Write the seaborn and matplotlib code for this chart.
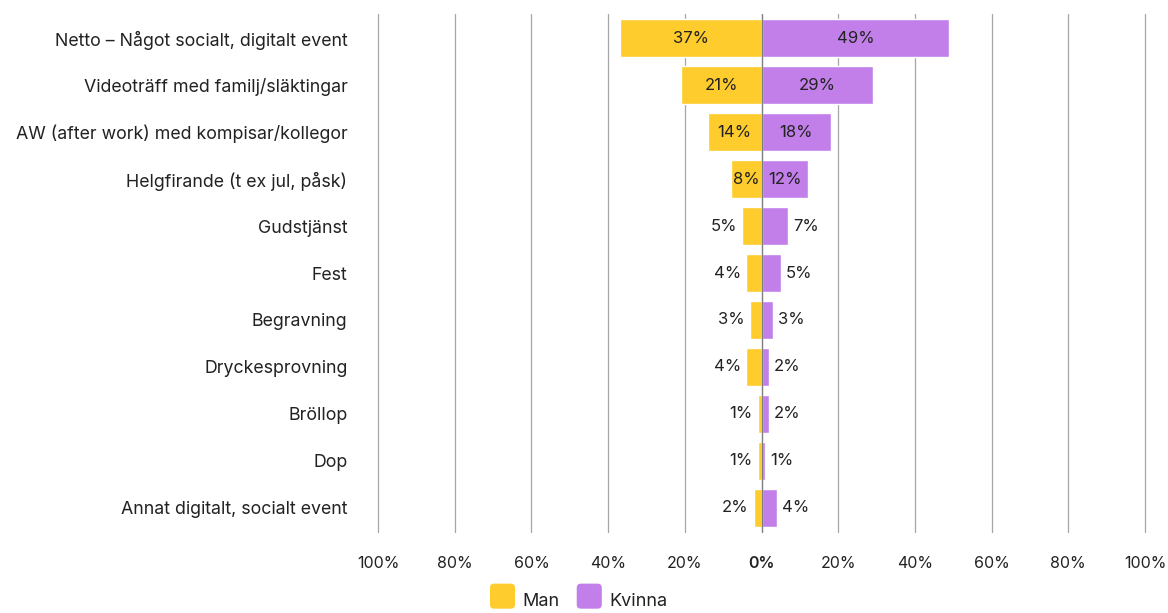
import matplotlib
matplotlib.use("Agg")
import matplotlib.pyplot as plt
import seaborn as sns
import pandas as pd
from matplotlib.patches import FancyBboxPatch, Patch
from matplotlib.legend_handler import HandlerPatch

categories = [
    "Netto – Något socialt, digitalt event",
    "Videoträff med familj/släktingar",
    "AW (after work) med kompisar/kollegor",
    "Helgfirande (t ex jul, påsk)",
    "Gudstjänst",
    "Fest",
    "Begravning",
    "Dryckesprovning",
    "Bröllop",
    "Dop",
    "Annat digitalt, socialt event",
]
man = [37, 21, 14, 8, 5, 4, 3, 4, 1, 1, 2]
kvinna = [49, 29, 18, 12, 7, 5, 3, 2, 2, 1, 4]
tick_values = [-100, -80, -60, -40, -20, 0, 20, 40, 60, 80, 100]
tick_labels = ["100%", "80%", "60%", "40%", "20%", "0%", "20%", "40%", "60%", "80%", "100%"]

YELLOW = "#FFCC2E"
PURPLE = "#C27FE9"
TEXT = "#222222"

sns.set_theme(style="white")
plt.rcParams["font.family"] = ["Inter", "DejaVu Sans"]

df = pd.DataFrame({"cat": categories, "Man": [-v for v in man], "Kvinna": kvinna})

fig = plt.figure(figsize=(11.68, 6.13), dpi=100)
ax = fig.add_axes([378 / 1168, (613 - 532) / 613, 767 / 1168, 518 / 613])

sns.barplot(data=df, y="cat", x="Man", color=YELLOW, width=0.81, ax=ax, saturation=1, orient="h", zorder=2)
sns.barplot(data=df, y="cat", x="Kvinna", color=PURPLE, width=0.81, ax=ax, saturation=1, orient="h", zorder=2)

ax.set_xlim(-100, 100)
ax.set_ylim(len(categories) - 0.5 + 0.02, -0.5 - 0.02)
ax.set_xticks(tick_values)
ax.set_xticklabels(tick_labels)
for lbl, v in zip(ax.get_xticklabels(), tick_values):
    if v == 0:
        lbl.set_fontweight("semibold")
ax.tick_params(axis="x", length=0, pad=17, labelsize=11.5, labelcolor=TEXT)
ax.tick_params(axis="y", length=0, pad=22, labelsize=12.8, labelcolor=TEXT)
ax.set_xlabel("")
ax.set_ylabel("")
for s in ax.spines.values():
    s.set_visible(False)

for v in tick_values:
    ax.axvline(v, color="#7f7f7f" if v == 0 else "#a6a6a6", lw=1.0 if v == 0 else 0.9,
               zorder=3 if v == 0 else 0.5, clip_on=False)

# labels
for i, (m, k) in enumerate(zip(man, kvinna)):
    if m >= 8:
        ax.text(-m / 2, i, f"{m}%", ha="center", va="center", fontsize=12, color=TEXT, zorder=4)
    else:
        ax.text(-m - 1.3, i, f"{m}%", ha="right", va="center", fontsize=12, color=TEXT, zorder=4)
    if k >= 8:
        ax.text(k / 2, i, f"{k}%", ha="center", va="center", fontsize=12, color=TEXT, zorder=4)
    else:
        ax.text(k + 1.3, i, f"{k}%", ha="left", va="center", fontsize=12, color=TEXT, zorder=4)


class RoundHandler(HandlerPatch):
    def create_artists(self, legend, orig_handle, xdescent, ydescent, width, height, fontsize, trans):
        size = height * 1.55
        p = FancyBboxPatch((xdescent + (width - size) / 2, ydescent + (height - size) / 2), size, size,
                           boxstyle="round,pad=0,rounding_size=3", facecolor=orig_handle.get_facecolor(),
                           edgecolor="none", transform=trans)
        return [p]


handles = [Patch(facecolor=YELLOW, label="Man"), Patch(facecolor=PURPLE, label="Kvinna")]
fig.legend(handles=handles, loc="center", bbox_to_anchor=(579 / 1168, 1 - 601 / 613), ncol=2, frameon=False,
           fontsize=13, handlelength=1.3, handleheight=1.0, columnspacing=1.0, handletextpad=0.45,
           handler_map={Patch: RoundHandler()}, labelcolor=TEXT)

fig.savefig("out.png", dpi=100)
